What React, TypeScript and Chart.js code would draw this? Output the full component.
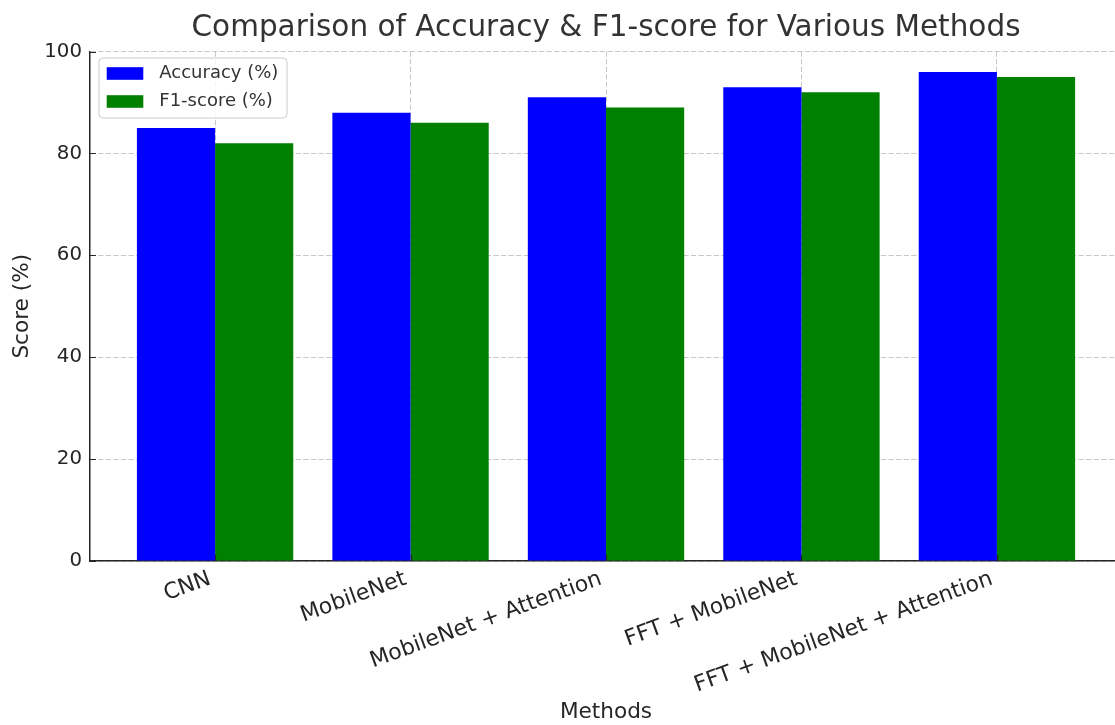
import React, { useEffect, useRef } from 'react';
import { Chart, registerables } from 'chart.js';

Chart.register(...registerables);

const methods = ['CNN', 'MobileNet', 'MobileNet + Attention', 'FFT + MobileNet', 'FFT + MobileNet + Attention'];
const accuracy = [85, 88, 91, 93, 96];
const f1Score = [82, 86, 89, 92, 95];
const yTicks = [0, 20, 40, 60, 80, 100];
const seriesNames = ['Accuracy (%)', 'F1-score (%)'];
const seriesColors = ['#0000ff', '#008000'];
const titleText = 'Comparison of Accuracy & F1-score for Various Methods';
const xTitle = 'Methods';
const yTitle = 'Score (%)';

const FONT = "'DejaVu Sans', sans-serif";
const TEXT = '#262626';
const GRID = 'rgba(176,176,176,0.7)';

const innerTicks = {
  id: 'innerTicks',
  afterDraw(chart: any) {
    const { ctx, chartArea } = chart;
    const xs = chart.scales.x;
    const ys = chart.scales.y;
    ctx.save();
    ctx.strokeStyle = TEXT;
    ctx.lineWidth = 1.2;
    ctx.setLineDash([]);
    ctx.beginPath();
    ys.ticks.forEach((t: any) => {
      const y = Math.round(ys.getPixelForValue(t.value)) + 0.5;
      ctx.moveTo(chartArea.left, y);
      ctx.lineTo(chartArea.left + 6, y);
    });
    xs.ticks.forEach((t: any) => {
      const x = Math.round(xs.getPixelForValue(t.value)) + 0.5;
      ctx.moveTo(x, chartArea.bottom);
      ctx.lineTo(x, chartArea.bottom - 6);
    });
    ctx.stroke();
    ctx.restore();
  },
};

const insideLegend = {
  id: 'insideLegend',
  afterDraw(chart: any) {
    const { ctx, chartArea } = chart;
    const x0 = chartArea.left + 9;
    const y0 = chartArea.top + 6.5;
    const w = 188;
    const h = 60;
    ctx.save();
    ctx.beginPath();
    if ((ctx as any).roundRect) (ctx as any).roundRect(x0, y0, w, h, 4);
    else ctx.rect(x0, y0, w, h);
    ctx.fillStyle = 'rgba(255,255,255,0.8)';
    ctx.fill();
    ctx.strokeStyle = '#cccccc';
    ctx.lineWidth = 1;
    ctx.stroke();
    chart.data.datasets.forEach((ds: any, i: number) => {
      const cy = y0 + 15.5 + i * 28;
      ctx.fillStyle = ds.backgroundColor;
      ctx.fillRect(x0 + 7.7, cy - 6.3, 36.6, 12.6);
      ctx.fillStyle = '#333333';
      ctx.font = `18px ${FONT}`;
      ctx.textBaseline = 'middle';
      ctx.textAlign = 'left';
      ctx.fillText(ds.label, x0 + 60.3, cy);
    });
    ctx.restore();
  },
};

export default function App() {
  const ref = useRef<HTMLCanvasElement>(null);

  useEffect(() => {
    const canvas = ref.current;
    if (!canvas) return;
    const chart = new Chart(canvas, {
      type: 'bar',
      data: {
        datasets: [
          {
            label: seriesNames[0],
            data: accuracy.map((v, i) => ({ x: i, y: v })),
            backgroundColor: seriesColors[0],
            borderWidth: 0,
            barPercentage: 1,
            categoryPercentage: 0.8,
          },
          {
            label: seriesNames[1],
            data: f1Score.map((v, i) => ({ x: i, y: v })),
            backgroundColor: seriesColors[1],
            borderWidth: 0,
            barPercentage: 1,
            categoryPercentage: 0.8,
          },
        ],
      } as any,
      options: {
        responsive: false,
        animation: false,
        layout: { padding: { left: 0, right: 3, top: 0, bottom: 0 } },
        plugins: {
          legend: { display: false },
          tooltip: { enabled: false },
          title: {
            display: true,
            text: titleText,
            fullSize: false,
            color: '#333333',
            font: { family: FONT, size: 29.5, weight: 'normal' },
            padding: { top: 11, bottom: 5.1 },
          },
        },
        scales: {
          x: {
            type: 'linear',
            min: -0.64,
            max: 4.64,
            offset: false,
            z: 1,
            afterBuildTicks: (s: any) => {
              s.ticks = methods.map((_, i) => ({ value: i }));
            },
            afterFit: (s: any) => {
              s.height = 164;
            },
            ticks: {
              autoSkip: false,
              minRotation: 20,
              maxRotation: 20,
              padding: 5,
              labelOffset: -5,
              color: TEXT,
              font: { family: FONT, size: 22 },
              callback: (v: any) => methods[v as number] ?? '',
            },
            grid: { color: GRID, lineWidth: 1, drawTicks: false, offset: false },
            border: { display: true, color: TEXT, width: 1.5, dash: [5.3, 2.3] },
            title: {
              display: true,
              text: xTitle,
              color: TEXT,
              font: { family: FONT, size: 21.6 },
              padding: { top: 0, bottom: 0 },
            },
          },
          y: {
            min: 0,
            max: 100,
            z: 1,
            afterBuildTicks: (s: any) => {
              s.ticks = yTicks.map((v) => ({ value: v }));
            },
            afterFit: (s: any) => {
              s.width = 90;
            },
            ticks: {
              padding: 8,
              color: TEXT,
              font: { family: FONT, size: 19.8 },
            },
            grid: { color: GRID, lineWidth: 1, drawTicks: false },
            border: { display: true, color: TEXT, width: 1.5, dash: [5.3, 2.3] },
            title: {
              display: true,
              text: yTitle,
              color: TEXT,
              font: { family: FONT, size: 21.6 },
              padding: { top: 9, bottom: 0 },
            },
          },
        },
      } as any,
      plugins: [innerTicks, insideLegend],
    });
    return () => chart.destroy();
  }, []);

  return (
    <div style={{ position: 'fixed', left: 0, top: 0, width: 1125, height: 725, background: '#fff' }}>
      <canvas ref={ref} width={1125} height={725} style={{ display: 'block' }} />
    </div>
  );
}
